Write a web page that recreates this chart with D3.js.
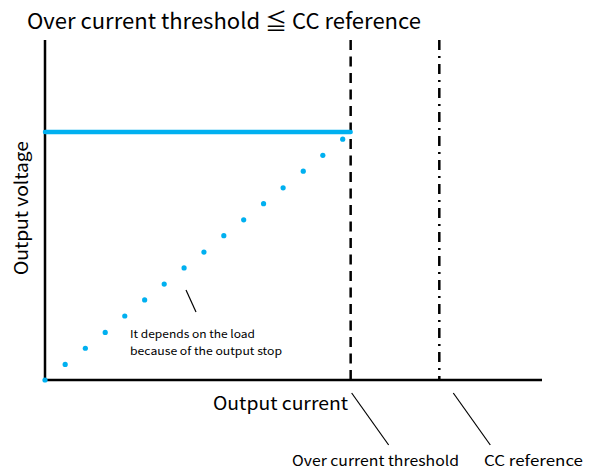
<!DOCTYPE html>
<html>
<head>
<meta charset="utf-8">
<script src="https://cdn.jsdelivr.net/npm/d3@7"></script>
<style>
  body { margin: 0; background: #fff; }
  text { font-family: "Noto Sans CJK JP", "DejaVu Sans", sans-serif; fill: #000; }
</style>
</head>
<body>
<div id="chart"></div>
<script>
// chart data (normalised units: 1 = over current threshold / set voltage)
var titleText = "Over current threshold \u2266 CC reference";
var xLabel = "Output current";
var yLabel = "Output voltage";
var thresholdCurrent = 1.0;
var ccReference = 1.29;
var setVoltage = 1.0;
var dotCurrent = [0, 0.066, 0.132, 0.197, 0.261, 0.326, 0.39, 0.455, 0.52, 0.585, 0.65, 0.715, 0.779, 0.845, 0.909, 0.974];
var dotVoltage = [0, 0.063, 0.128, 0.192, 0.258, 0.323, 0.387, 0.452, 0.516, 0.582, 0.646, 0.711, 0.775, 0.842, 0.906, 0.971];
var noteLines = ["It depends on the load", "because of the output stop"];
var markerLabels = ["Over current threshold", "CC reference"];

var svgWidth = 591;
var svgHeight = 470;
var margin = { top: 40, right: 49, bottom: 90, left: 45 };
var width = svgWidth - margin.left - margin.right;
var height = svgHeight - margin.top - margin.bottom;

var svg = d3.select("#chart")
  .append("svg")
  .attr("width", svgWidth)
  .attr("height", svgHeight);

var chartGroup = svg.append("g")
  .attr("transform", `translate(${margin.left}, ${margin.top})`);

var xScale = d3.scaleLinear().domain([0, 1.626]).range([0, width]);
var yScale = d3.scaleLinear().domain([0, 1.371]).range([height, 0]);

var blue = "#00b0f0";

// title
svg.append("text")
  .attr("x", 27)
  .attr("y", 29)
  .attr("textLength", 394)
  .attr("lengthAdjust", "spacingAndGlyphs")
  .style("font-size", "22px")
  .text(titleText);

// axes (plain lines, no ticks)
chartGroup.append("line")
  .attr("x1", 0).attr("x2", 0)
  .attr("y1", 0).attr("y2", height)
  .attr("stroke", "#000").attr("stroke-width", 2.5);

chartGroup.append("line")
  .attr("x1", 0).attr("x2", width)
  .attr("y1", height).attr("y2", height)
  .attr("stroke", "#000").attr("stroke-width", 2.5);

// threshold markers
chartGroup.append("line")
  .attr("x1", xScale(thresholdCurrent)).attr("x2", xScale(thresholdCurrent))
  .attr("y1", 0).attr("y2", height)
  .attr("stroke", "#000").attr("stroke-width", 2.5)
  .attr("stroke-dasharray", "10,6.5");

chartGroup.append("line")
  .attr("x1", xScale(ccReference)).attr("x2", xScale(ccReference))
  .attr("y1", 0).attr("y2", height)
  .attr("stroke", "#000").attr("stroke-width", 2.5)
  .attr("stroke-dasharray", "10,6,2,6");

// constant voltage line
chartGroup.append("line")
  .attr("x1", xScale(0)).attr("x2", xScale(thresholdCurrent))
  .attr("y1", yScale(setVoltage)).attr("y2", yScale(setVoltage))
  .attr("stroke", blue).attr("stroke-width", 4.5)
  .attr("stroke-linecap", "round");

// load dependent points
chartGroup.selectAll("circle")
  .data(dotCurrent)
  .enter()
  .append("circle")
  .attr("cx", (d, i) => xScale(d))
  .attr("cy", (d, i) => yScale(dotVoltage[i]))
  .attr("r", 2.6)
  .attr("fill", blue);

// note
chartGroup.append("line")
  .attr("x1", 141).attr("y1", 250)
  .attr("x2", 151).attr("y2", 272)
  .attr("stroke", "#000").attr("stroke-width", 1.2);

var noteWidths = [125, 152];
chartGroup.selectAll(".note")
  .data(noteLines)
  .enter()
  .append("text")
  .attr("class", "note")
  .attr("x", 85)
  .attr("y", (d, i) => 298 + i * 17)
  .attr("textLength", (d, i) => noteWidths[i])
  .attr("lengthAdjust", "spacingAndGlyphs")
  .style("font-size", "11px")
  .text(d => d);

// axis labels
chartGroup.append("text")
  .attr("transform", "rotate(-90)")
  .attr("x", -168)
  .attr("y", -17)
  .attr("text-anchor", "middle")
  .attr("textLength", 134)
  .attr("lengthAdjust", "spacingAndGlyphs")
  .style("font-size", "18px")
  .text(yLabel);

chartGroup.append("text")
  .attr("x", 168)
  .attr("y", height + 30)
  .attr("textLength", 135)
  .attr("lengthAdjust", "spacingAndGlyphs")
  .style("font-size", "18px")
  .text(xLabel);

// marker callouts
var markers = [thresholdCurrent, ccReference];
chartGroup.selectAll(".leader")
  .data(markers)
  .enter()
  .append("line")
  .attr("class", "leader")
  .attr("x1", (d, i) => xScale(d) + (i ? 14 : 1))
  .attr("y1", height + 13)
  .attr("x2", (d, i) => xScale(d) + (i ? 51 : 38))
  .attr("y2", height + 65)
  .attr("stroke", "#000").attr("stroke-width", 1.2);

var labelX = [247, 439];
var labelWidths = [167, 99];
chartGroup.selectAll(".marker-label")
  .data(markerLabels)
  .enter()
  .append("text")
  .attr("class", "marker-label")
  .attr("x", (d, i) => labelX[i])
  .attr("y", height + 86)
  .attr("textLength", (d, i) => labelWidths[i])
  .attr("lengthAdjust", "spacingAndGlyphs")
  .style("font-size", "14px")
  .text(d => d);
</script>
</body>
</html>
